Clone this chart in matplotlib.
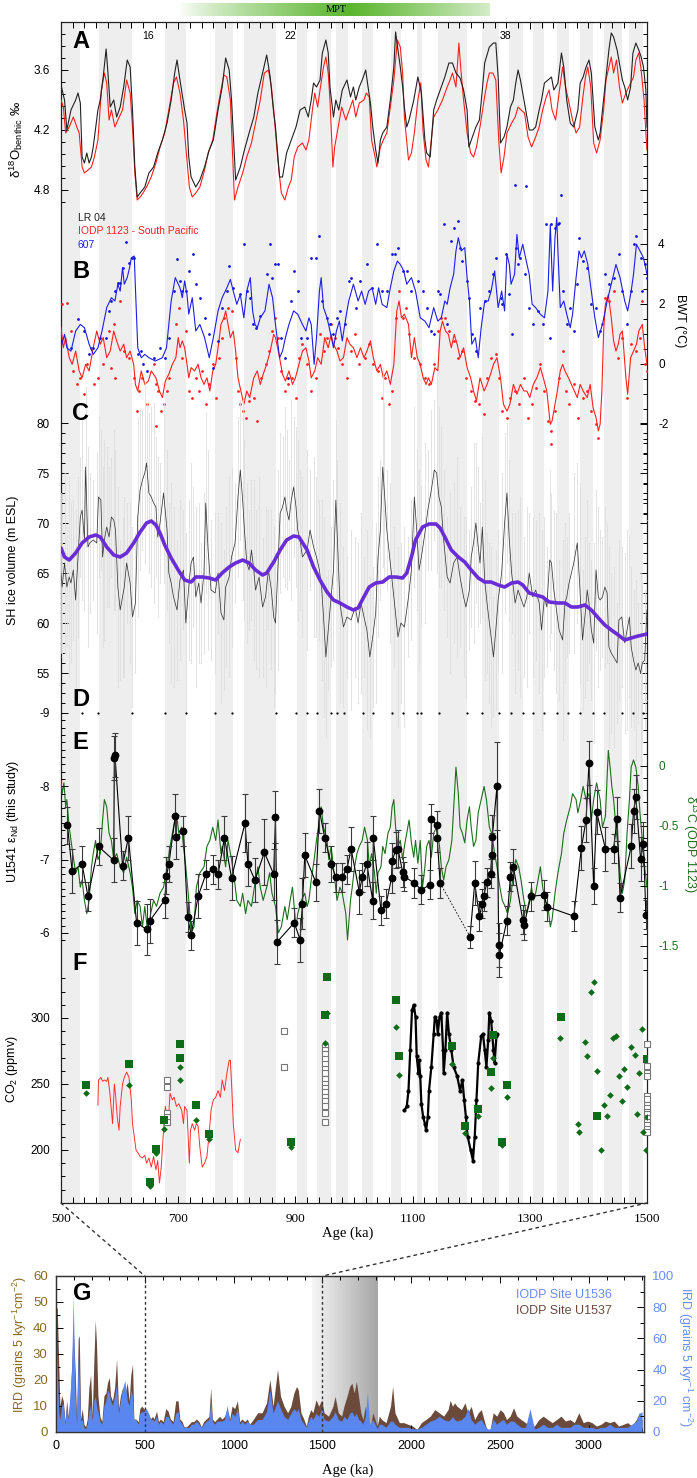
import numpy as np
import matplotlib
matplotlib.use("Agg")
import matplotlib.pyplot as plt
import matplotlib.transforms as mtransforms
from matplotlib.patches import ConnectionPatch
from matplotlib.colors import LinearSegmentedColormap

plt.rcParams['font.family'] = 'Liberation Sans'
plt.rcParams['mathtext.fontset'] = 'custom'
plt.rcParams['mathtext.rm'] = 'Liberation Sans'
plt.rcParams['mathtext.it'] = 'Liberation Sans:italic'
plt.rcParams['mathtext.bf'] = 'Liberation Sans:bold'
SERIF = 'Liberation Serif'

# ---------------- data ----------------
# interglacial shading (ka)
bands = [(500, 533), (565, 622), (677, 713), (762, 793), (813, 867), (902, 920), (937, 961),
         (969, 989), (1014, 1033), (1063, 1080), (1107, 1116), (1143, 1193), (1218, 1247),
         (1265, 1289), (1305, 1324), (1346, 1367), (1386, 1408), (1426, 1457), (1470, 1493)]
mis_age = [649, 892, 1259]
mis_label = ['16', '22', '38']
mpt_span = (700, 1232)

# A: benthic d18O
lr04_age = [500,506,510,517,525,529,533,536,540,544,548,552,555,563,567,572,577,580,584,590,
            595,601,607,613,618,622,626,630,635,643,650,658,665,673,681,688,694,698,703,711,
            715,718,722,730,737,745,753,760,768,775,781,787,791,798,806,813,821,829,836,844,
            851,857,863,866,873,878,885,893,901,908,916,922,927,931,936,942,946,952,956,959,
            965,969,974,980,988,994,999,1003,1009,1014,1020,1024,1028,1032,1037,1041,1045,1049,1056,1062,
            1068,1071,1075,1079,1083,1086,1090,1094,1102,1109,1115,1121,1124,1130,1136,1141,1147,1155,1162,1168,
            1174,1181,1187,1193,1196,1202,1208,1214,1219,1223,1231,1238,1242,1246,1250,1256,1261,1267,1272,1276,
            1280,1284,1290,1295,1299,1305,1310,1316,1320,1325,1331,1337,1341,1348,1354,1358,1363,1369,1375,1382,
            1386,1391,1396,1401,1405,1411,1417,1420,1424,1429,1435,1439,1443,1449,1454,1458,1462,1467,1472,1476,
            1481,1486,1490,1494,1498,1500]
lr04_val = [3.75,3.90,4.20,4.00,3.90,3.83,3.93,4.47,4.53,4.43,4.53,4.47,4.37,4.00,3.90,3.67,3.39,3.62,3.97,3.90,
            4.07,3.97,3.77,3.50,3.57,4.00,4.57,4.87,4.83,4.77,4.63,4.57,4.43,4.30,4.13,3.90,3.63,3.50,3.70,4.00,
            4.13,4.47,4.67,4.77,4.70,4.57,4.40,4.30,4.00,3.77,3.48,3.60,3.90,4.70,4.57,4.40,4.23,4.07,3.83,3.63,
            3.45,3.67,4.03,4.17,4.67,4.67,4.43,4.30,4.17,4.00,3.97,4.07,3.90,3.73,3.77,3.70,3.43,3.30,3.43,3.77,
            4.07,3.90,4.00,3.80,3.70,3.87,3.77,3.90,3.77,3.70,3.60,3.77,3.93,4.17,4.40,4.53,4.30,4.23,4.17,3.90,
            3.57,3.22,3.40,3.57,3.77,3.97,4.17,4.10,3.90,3.67,3.83,4.30,4.43,4.47,4.00,3.90,3.80,3.67,3.53,3.53,
            3.63,3.68,3.80,4.00,4.37,4.27,4.17,4.10,3.80,3.53,3.37,3.33,3.33,3.67,4.33,4.27,4.17,3.97,3.90,3.73,
            3.60,3.70,3.90,4.07,4.20,4.20,4.17,4.00,3.90,3.73,3.70,3.67,3.80,3.73,3.43,3.57,3.90,4.13,4.17,4.00,
            3.73,3.67,3.57,3.50,3.63,4.17,4.30,4.23,4.00,3.73,3.40,3.23,3.27,3.40,3.57,3.70,3.77,3.90,3.77,3.43,
            3.33,3.40,3.47,3.57,3.80,4.17]
o1123_age = [500,504,508,514,521,527,531,536,540,546,552,557,563,569,574,578,582,586,592,597,
             605,612,618,622,626,630,635,640,646,654,662,669,677,684,692,697,703,709,715,719,
             724,730,737,745,751,759,766,772,778,783,789,796,802,810,817,825,832,840,847,854,
             859,864,870,876,882,888,893,898,904,912,918,923,929,933,938,942,948,952,956,959,
             964,967,973,979,986,992,998,1003,1009,1017,1021,1026,1030,1036,1039,1045,1050,1056,1062,1068,
             1074,1079,1083,1086,1093,1098,1103,1109,1114,1118,1123,1127,1130,1136,1143,1151,1159,1164,1168,1174,
             1179,1182,1187,1193,1199,1204,1209,1215,1222,1227,1231,1237,1242,1247,1251,1256,1261,1269,1275,1280,
             1285,1291,1297,1303,1310,1316,1322,1328,1333,1338,1344,1350,1356,1361,1367,1373,1379,1385,1390,1395,
             1399,1404,1409,1414,1420,1426,1430,1435,1439,1443,1448,1453,1458,1464,1472,1477,1481,1486,1490,1495,
             1498,1500]
o1123_val = [3.90,3.97,4.23,4.17,4.07,4.17,4.23,4.57,4.63,4.60,4.57,4.47,4.30,3.80,3.63,3.73,4.10,4.00,4.17,4.10,
             4.00,3.70,3.83,4.17,4.63,4.90,4.87,4.83,4.77,4.67,4.53,4.37,4.23,4.00,3.73,3.67,3.83,4.10,4.50,4.77,
             4.87,4.83,4.77,4.60,4.43,4.30,4.03,3.83,3.65,3.67,3.90,4.90,4.77,4.63,4.47,4.33,4.13,3.90,3.63,3.60,
             3.77,4.07,4.50,4.83,4.90,4.77,4.70,4.47,4.37,4.33,4.40,4.30,4.00,3.83,3.97,3.80,3.57,3.47,3.63,3.90,
             4.57,4.37,4.17,3.97,4.10,4.00,3.90,4.07,3.93,3.90,3.83,3.87,4.30,4.47,4.57,4.37,4.30,4.23,3.97,3.70,
             3.30,3.37,3.63,4.07,4.50,4.43,4.23,3.90,3.73,4.23,4.50,4.57,4.40,4.07,4.00,3.90,3.77,3.70,3.63,3.77,
             3.33,3.57,3.90,4.23,4.43,4.47,4.37,4.17,3.90,3.73,3.63,3.63,3.70,4.30,4.63,4.47,4.23,4.13,4.07,3.97,
             4.00,4.03,4.27,4.37,4.27,4.17,4.00,3.87,3.80,4.00,4.10,3.83,3.57,3.77,3.93,4.10,4.23,4.17,3.90,3.67,
             3.57,3.77,4.33,4.43,4.30,4.00,3.70,3.57,3.47,3.63,3.50,3.77,3.93,3.83,3.73,3.67,3.50,3.43,3.60,3.90,
             4.23,4.40]

# B: bottom water temperature
bwt607_age = [500,506,510,517,525,533,540,548,555,563,570,578,586,592,597,601,605,608,613,617,
              620,625,627,631,637,643,650,661,673,680,688,695,703,707,711,715,718,724,730,737,
              745,753,760,768,775,783,789,794,800,806,812,817,823,827,831,835,840,848,855,861,
              866,873,878,883,889,897,904,912,918,923,927,932,936,941,944,948,954,959,965,970,
              975,980,986,991,999,1007,1013,1019,1025,1031,1037,1042,1048,1056,1062,1068,1074,1079,1085,1090,
              1098,1105,1113,1121,1128,1136,1143,1149,1155,1159,1164,1170,1174,1178,1183,1189,1193,1197,1201,1207,
              1212,1217,1223,1229,1234,1240,1246,1252,1257,1261,1265,1268,1274,1278,1282,1288,1294,1299,1304,1310,
              1318,1325,1331,1335,1339,1343,1346,1348,1352,1358,1363,1369,1373,1379,1384,1388,1393,1399,1405,1411,
              1417,1424,1432,1439,1447,1454,1462,1467,1473,1477,1482,1488,1494,1500]
bwt607_val = [0.54,0.99,0.54,0.43,1.10,1.32,1.21,0.66,0.32,0.54,1.10,1.88,2.21,2.10,2.66,2.43,3.21,2.66,2.88,3.21,
              3.54,3.60,2.54,0.54,0.21,0.32,0.21,0.10,0.21,0.54,2.10,2.88,2.54,2.21,2.77,2.32,1.66,2.21,1.10,1.32,
              0.88,0.21,0.88,1.77,2.21,2.54,2.82,2.43,1.99,2.32,1.54,2.43,2.88,1.77,1.32,1.21,1.54,1.77,2.66,2.21,
              1.32,0.21,0.43,0.88,1.32,1.77,1.66,1.32,1.10,1.54,1.32,-0.01,0.88,2.43,2.88,1.88,1.54,1.10,0.54,1.10,
              1.43,0.77,1.54,2.10,2.66,2.10,2.43,1.99,2.43,2.54,1.99,2.54,1.99,1.88,2.54,3.10,3.43,3.32,3.10,2.66,
              2.88,2.43,1.54,1.43,1.21,1.88,1.43,1.54,2.10,1.99,2.54,2.99,3.77,4.21,3.77,3.88,2.88,2.10,0.66,0.88,
              0.21,1.21,2.10,2.10,2.43,3.10,1.88,2.43,1.77,3.66,3.32,2.66,2.99,4.32,3.54,3.99,3.43,2.99,1.99,1.88,
              1.66,1.54,2.43,4.65,2.43,4.21,4.88,3.77,1.88,2.10,1.66,1.21,1.66,2.88,3.77,3.54,3.77,3.32,2.43,1.54,
              0.88,1.32,2.10,2.66,3.32,2.88,2.10,1.77,2.43,2.99,3.99,3.77,3.54,2.99]
bwt607_dot_age = [517,529,540,548,555,567,577,582,586,592,597,601,605,611,616,621,625,631,636,640,
                  646,658,669,677,684,692,698,703,707,713,719,726,730,737,745,753,760,768,775,783,
                  787,794,806,812,817,822,827,832,840,851,857,860,866,870,876,882,888,893,898,904,
                  910,920,927,935,941,946,954,959,965,971,976,984,992,995,1003,1011,1022,1030,1039,1047,
                  1056,1064,1070,1075,1083,1090,1098,1109,1117,1124,1132,1136,1143,1147,1153,1159,1166,1171,1178,1181,
                  1185,1193,1196,1202,1208,1215,1223,1231,1238,1242,1250,1253,1259,1265,1269,1275,1276,1280,1284,1291,
                  1293,1299,1306,1314,1322,1328,1334,1337,1343,1348,1350,1354,1356,1363,1369,1375,1381,1384,1390,1398,
                  1405,1413,1420,1428,1435,1443,1452,1458,1466,1473,1477,1482,1489,1492,1496,1500]
bwt607_dot_val = [0.54,1.49,1.10,0.32,0.54,0.88,0.88,1.77,2.10,2.43,2.71,2.71,3.21,4.08,3.38,3.54,3.54,0.32,0.43,-0.01,
                  -0.23,0.21,0.54,0.21,0.88,2.43,3.49,2.77,2.43,2.43,3.10,3.66,2.66,2.21,1.54,0.99,-0.12,0.77,1.88,2.43,
                  3.27,2.54,2.32,3.99,2.43,2.21,1.32,1.21,1.60,2.99,3.99,2.88,3.32,3.32,0.88,0.21,-0.46,2.10,3.10,2.43,
                  0.88,0.88,3.54,3.54,4.27,2.10,1.54,1.32,0.99,1.54,1.77,1.32,2.77,2.88,1.88,2.77,3.32,2.54,3.99,2.43,
                  2.43,3.66,3.66,3.88,3.10,3.10,2.43,2.77,2.43,1.88,1.10,0.99,2.43,2.32,4.66,1.32,4.10,4.54,4.77,3.88,
                  3.43,2.77,2.21,0.99,0.43,1.88,2.10,2.43,2.99,3.54,2.21,1.99,3.66,2.32,0.99,5.97,3.88,3.32,3.54,2.99,
                  5.92,1.88,1.32,1.77,1.32,4.66,0.88,4.66,4.54,4.66,4.71,5.63,2.43,1.32,1.88,1.10,2.66,4.21,3.43,3.21,
                  1.99,1.88,1.10,2.99,2.66,2.88,3.66,2.43,1.32,2.43,3.99,4.27,3.54,2.43,3.32,2.88]
bwt1123_age = [500,504,508,514,519,525,531,536,542,548,555,561,567,572,578,584,590,595,601,607,
               612,618,624,627,631,637,643,649,654,662,668,673,678,684,690,696,700,703,707,711,
               715,718,722,728,734,739,744,749,754,759,764,768,773,778,781,785,789,794,798,802,
               807,812,817,822,829,835,840,845,851,857,863,866,873,878,883,889,895,900,906,912,
               918,923,927,933,938,944,950,956,961,965,971,976,982,988,993,999,1005,1011,1017,1022,
               1028,1033,1039,1045,1050,1056,1062,1068,1073,1077,1081,1086,1093,1098,1103,1108,1113,1118,1123,1127,
               1132,1138,1143,1147,1151,1156,1161,1166,1171,1176,1181,1187,1193,1199,1204,1209,1215,1222,1227,1233,
               1238,1244,1250,1255,1261,1266,1272,1278,1284,1290,1295,1300,1306,1312,1318,1323,1329,1335,1338,1343,
               1347,1352,1356,1360,1366,1371,1376,1381,1386,1391,1398,1403,1408,1413,1417,1420,1423,1426,1429,1434,
               1439,1443,1447,1451,1454,1458,1464,1467,1472,1477,1482,1486,1492,1496,1500]
bwt1123_val = [1.21,0.54,0.88,0.21,-0.01,0.43,-0.23,-0.46,-0.01,-0.23,0.54,1.10,0.66,0.88,0.21,0.43,1.10,0.77,0.43,0.66,
               0.21,0.43,-0.01,-0.68,-0.90,-0.23,-0.68,-0.57,-0.23,-0.46,-0.90,-1.12,-0.57,-0.34,-0.01,0.21,0.88,0.54,0.77,0.54,
               -0.01,-0.46,-0.12,-0.23,-0.01,-0.46,-0.68,-0.46,-0.90,-0.23,-0.01,0.54,1.32,1.54,1.77,1.32,0.88,1.10,0.43,-0.46,
               -0.90,-1.34,-0.90,-1.12,-0.46,-0.23,-0.68,-0.34,-0.01,0.43,0.99,0.88,0.21,-0.34,-0.57,-0.23,-0.68,-0.46,-0.01,0.43,
               0.54,0.10,-0.46,-0.23,0.21,-0.01,0.88,0.54,0.99,0.66,0.43,0.10,0.21,0.88,0.66,0.54,0.21,0.54,0.21,0.43,
               0.77,0.21,-0.23,-0.01,-0.46,-0.23,-0.68,-0.01,1.77,2.10,1.54,1.66,1.32,0.21,0.88,0.21,-0.01,-0.46,-0.68,-0.46,
               -0.68,-0.12,-0.23,1.10,1.43,1.10,0.99,0.54,0.99,0.66,0.21,0.54,-0.12,-0.46,-0.90,-1.23,-0.46,-0.90,-0.68,-0.34,
               -0.01,0.21,-0.46,-1.34,-1.57,-1.34,-0.68,-1.01,-0.68,-0.90,-0.90,-1.12,-0.68,-0.46,-0.12,-0.46,-0.90,-2.01,-1.90,-1.34,
               -0.90,-0.23,-0.01,-0.23,-0.46,-0.68,-0.90,-1.12,-0.68,-0.90,-1.12,-0.68,-1.46,-1.79,-2.23,-2.01,-0.90,1.10,1.99,2.31,
               1.54,0.77,0.43,0.66,0.99,1.10,-0.46,-1.01,0.21,0.43,0.66,1.10,1.32,0.54,-0.01]
bwt1123_dot_age = [502,510,517,521,527,533,539,544,552,557,563,571,582,586,590,593,601,608,616,624,
                   630,633,639,646,658,662,662,665,671,675,681,684,696,701,707,713,719,724,730,736,
                   741,747,753,759,764,769,775,779,785,791,798,802,806,810,815,821,829,835,842,850,
                   855,860,865,870,876,882,888,895,901,906,912,920,927,935,942,948,954,961,967,973,
                   980,988,995,1002,1009,1018,1026,1033,1041,1047,1053,1060,1065,1071,1077,1083,1088,1094,1102,1113,
                   1121,1128,1136,1143,1149,1155,1162,1170,1178,1185,1191,1199,1206,1214,1222,1227,1234,1242,1247,1253,
                   1261,1267,1275,1282,1290,1297,1303,1310,1318,1325,1331,1337,1337,1343,1350,1356,1361,1367,1375,1382,
                   1390,1398,1405,1413,1417,1424,1429,1435,1443,1451,1458,1466,1473,1481,1488,1492,1496,1500]
bwt1123_dot_val = [1.99,2.04,1.10,-0.23,-0.68,-0.46,-1.01,-0.01,0.54,-0.68,-0.46,-0.01,1.10,-0.12,1.32,-0.46,2.10,0.43,0.21,-0.46,
                   -1.57,-0.90,-0.46,-1.34,-0.01,-0.68,-2.07,-0.90,-1.57,-1.34,-0.90,-0.46,1.32,1.88,0.21,1.10,-0.90,-1.12,-0.46,-0.90,
                   -0.23,-1.34,-0.68,-0.01,-1.12,0.21,0.88,1.54,1.88,1.77,0.21,-0.90,-1.34,-1.57,-1.79,-1.23,-1.12,-1.90,-0.46,-0.01,
                   0.43,1.10,1.54,0.88,-0.23,-0.90,-0.68,-0.46,-1.12,0.21,0.66,-0.01,-0.90,-0.46,0.99,0.43,0.88,1.32,0.88,0.54,
                   -0.01,-0.46,0.43,0.99,-0.01,0.21,0.66,-0.01,-0.23,-1.12,-0.46,-1.34,-0.90,1.54,2.43,1.54,1.88,0.99,0.21,-0.01,
                   -0.46,-0.68,-0.01,1.10,1.54,1.54,1.10,0.77,0.21,0.43,-0.46,-0.90,-1.23,-1.34,-1.68,-0.46,0.21,0.32,-0.46,-1.57,
                   -1.79,-1.12,-0.90,-1.34,-0.46,-1.79,-1.34,-0.79,-0.01,-0.90,-1.90,-2.23,-2.67,-1.57,-0.46,0.43,-0.90,-1.34,-0.68,-1.79,
                   -1.12,-0.90,-1.57,-2.01,-2.46,1.32,2.21,2.10,2.43,0.21,0.88,-1.12,0.66,0.43,0.88,2.10,-0.01,-0.23]

# C: SH ice volume
ice_age = [500,502,506,510,514,517,521,525,529,533,536,540,542,546,549,555,561,564,568,571,
           574,578,582,586,590,593,597,601,605,608,612,618,622,627,631,635,639,643,646,650,
           654,658,662,665,669,675,681,684,688,692,698,703,709,713,719,722,726,730,735,739,
           744,747,751,756,763,768,773,778,781,787,791,797,802,806,810,813,817,821,825,829,
           832,838,844,849,854,859,863,866,870,874,878,882,885,889,893,897,901,904,908,912,
           920,925,931,936,941,945,948,952,956,961,965,969,971,976,982,988,995,1002,1007,1012,
           1017,1022,1027,1032,1037,1041,1045,1049,1052,1056,1062,1068,1075,1080,1086,1093,1098,1103,1107,1111,
           1115,1121,1126,1132,1137,1141,1145,1149,1153,1159,1164,1170,1176,1181,1187,1191,1197,1200,1204,1208,
           1212,1215,1219,1223,1227,1231,1234,1238,1242,1246,1252,1257,1261,1265,1269,1275,1280,1284,1290,1295,
           1299,1305,1310,1316,1320,1325,1329,1334,1337,1341,1344,1350,1356,1360,1363,1367,1375,1381,1385,1390,
           1394,1398,1401,1405,1409,1413,1417,1420,1424,1428,1432,1435,1439,1443,1449,1452,1457,1462,1466,1470,
           1473,1477,1481,1485,1489,1492,1496,1500]
ice_val = [65.0,63.6,66.0,63.6,64.6,64.0,65.3,62.3,66.6,70.6,71.3,68.3,75.6,67.6,68.0,68.3,68.0,72.6,72.3,66.6,
           68.3,69.6,68.6,70.6,70.3,69.3,63.6,61.3,62.6,63.6,66.0,64.0,60.6,62.0,70.6,73.3,74.3,75.0,76.0,73.0,
           72.6,72.0,71.6,68.6,70.0,73.0,69.3,65.0,64.0,62.6,61.3,64.3,65.3,60.0,64.3,66.0,66.6,62.6,64.0,62.0,
           65.0,72.0,67.3,63.3,63.0,65.0,61.0,60.3,63.6,64.6,66.6,68.0,72.6,75.3,72.3,69.3,66.0,65.3,67.3,65.3,
           63.3,64.6,61.6,62.6,65.3,63.3,60.6,60.0,65.3,71.0,71.6,72.6,71.3,70.3,72.3,73.6,71.6,69.3,68.3,66.6,
           67.3,69.3,67.6,66.6,65.3,63.3,60.6,56.6,59.3,62.6,65.3,72.3,69.3,62.0,59.6,60.6,60.3,61.6,60.0,62.0,
           60.6,59.3,56.6,58.6,61.0,66.6,69.3,75.6,73.0,69.3,66.0,62.6,58.6,60.0,59.6,62.6,65.3,72.6,69.3,65.3,
           66.6,69.0,71.3,73.3,75.3,75.0,72.6,71.6,68.3,64.6,64.0,66.0,66.6,64.6,62.6,61.6,63.3,66.6,68.0,70.0,
           67.6,66.0,69.6,64.3,62.0,60.0,58.6,56.6,59.3,62.3,65.0,70.0,73.0,68.3,65.0,62.0,63.3,62.6,61.6,62.6,
           65.0,62.6,63.3,62.0,59.3,62.6,61.6,66.3,66.0,63.3,62.0,59.3,58.3,62.0,62.6,64.0,66.0,68.0,64.0,58.3,
           60.6,63.3,62.0,59.3,58.0,65.3,62.6,62.3,62.6,63.6,63.0,57.6,57.0,56.6,56.0,60.3,60.6,58.0,59.3,60.6,
           57.6,56.3,55.3,56.0,55.0,56.0,56.3,61.3]
ice_err = [8,7,9,6,10,8,7,9,8,6, 9,7,8,10,7,6,9,8,7,9, 10,8,7,6,9,8,10,7,8,9, 6,8,9,7,10,8,7,9,6,8,
           9,10,7,8,6,9,8,7,10,9, 7,8,6,9,8,10,7,9,8,6, 8,9,10,7,8,6,9,7,8,10, 9,6,8,7,10,9,8,6,7,9,
           8,10,7,9,6,8,9,7,10,8, 7,9,8,6,10,7,8,9,7,8, 10,6,9,8,7,9,10,8,6,7, 9,8,7,10,8,6,9,7,8,9,
           6,10,8,7,9,8,7,10,9,6, 8,7,9,8,10,6,7,9,8,10, 7,9,6,8,7,10,9,8,7,6, 9,8,10,7,8,9,6,7,10,8,
           8,6,9,10,7,8,9,6,8,7, 10,9,7,8,6,9,8,10,7,9, 6,8,7,9,10,8,6,9,7,8, 9,7,10,8,6,7,9,8,10,7,
           8,9,6,7,10,8,9,7,6,8, 7,10,8,9,6,8,7,9,10,8, 8,7,9,6,10,8,7,9]
ice_smooth_age = [500,506,514,525,536,548,559,567,578,590,601,612,624,635,646,654,662,669,677,688,
                  700,711,722,730,741,753,764,775,787,798,810,821,832,844,851,863,874,885,897,906,
                  920,931,942,954,965,976,988,999,1007,1014,1026,1037,1049,1060,1071,1083,1090,1098,1105,1117,
                  1128,1140,1147,1155,1166,1178,1189,1200,1212,1223,1234,1246,1257,1269,1280,1288,1299,1310,1322,1333,
                  1348,1360,1371,1382,1394,1405,1417,1428,1439,1451,1462,1473,1485,1500]
ice_smooth_val = [67.5,66.6,66.3,67.0,68.0,68.6,68.8,68.6,67.6,66.8,66.6,67.0,68.0,69.1,70.0,70.2,69.8,69.0,67.8,66.5,
                  65.3,64.3,64.1,64.6,64.6,64.5,64.3,65.0,65.6,66.0,66.3,66.0,65.3,64.8,65.0,66.1,67.3,68.3,68.7,68.6,
                  67.3,65.6,64.3,63.1,62.3,62.0,61.6,61.3,61.5,62.3,63.6,64.0,64.1,64.6,64.6,64.5,65.0,66.6,68.3,69.6,
                  69.9,69.9,69.5,68.6,67.3,66.6,66.1,65.3,64.5,64.1,64.1,63.8,63.6,64.0,64.1,63.8,63.0,62.8,62.6,62.1,
                  62.0,62.0,61.6,61.6,61.8,61.3,60.5,59.8,59.3,58.8,58.3,58.5,58.7,58.9]

# D: terminations
term_age = [535,563,622,677,714,763,792,867,901,919,937,960,971,983,1015,1033,1064,1084,1107,1115,
            1145,1193,1219,1248,1268,1289,1306,1324,1346,1365,1386,1407,1426,1457,1476,1493]

# E: U1541 eNd and ODP 1123 d13C
nd_age = [511,519,536,546,564,590,591,592,605,615,629,646,652,677,680,684,695,697,709,716,
          722,734,747,759,768,779,791,814,819,831,847,863,866,869,898,908,912,916,935,941,
          950,961,969,979,988,995,1009,1014,1022,1032,1033,1046,1055,1064,1065,1071,1075,1083,1086,1103,
          1115,1130,1132,1141,1142,1147,1198,1206,1214,1219,1221,1227,1233,1235,1236,1244,1247,1248,1261,1267,
          1272,1288,1290,1302,1325,1329,1375,1388,1396,1401,1409,1414,1429,1443,1449,1454,1473,1477,1481,1489,
          1494,1498]
nd_val = [-7.47,-6.84,-6.94,-6.50,-7.18,-6.99,-8.38,-8.43,-6.92,-7.30,-6.14,-6.05,-6.17,-6.45,-6.78,-6.94,-7.59,-7.31,-7.39,-6.22,
          -5.97,-6.50,-6.80,-6.87,-6.80,-7.30,-6.75,-7.50,-6.94,-6.72,-7.10,-6.80,-7.58,-5.88,-6.14,-5.91,-6.40,-7.06,-6.69,-7.67,
          -7.30,-6.94,-6.76,-6.76,-6.87,-7.15,-6.56,-6.76,-6.94,-6.44,-7.29,-6.31,-6.40,-6.75,-6.98,-7.13,-7.15,-6.83,-6.77,-6.68,
          -6.59,-6.66,-7.56,-7.47,-7.30,-6.68,-5.95,-6.68,-6.23,-6.40,-6.50,-6.69,-6.81,-7.06,-7.31,-8.00,-5.84,-5.70,-6.17,-6.77,
          -6.90,-6.18,-6.11,-6.50,-6.52,-6.36,-6.23,-7.16,-7.54,-8.32,-6.64,-7.65,-7.15,-7.15,-7.55,-6.48,-7.18,-7.66,-7.85,-7.01,
          -7.22,-6.25]
nd_err = [0.25,0.3,0.25,0.2,0.25,0.3,0.3,0.3,0.2,0.3, 0.3,0.35,0.3,0.25,0.25,0.25,0.3,0.3,0.2,0.2,
          0.2,0.3,0.2,0.2,0.2,0.3,0.3,0.4,0.3,0.3, 0.45,0.35,0.35,0.3,0.2,0.3,0.35,0.3,0.25,0.3,
          0.2,0.25,0.2,0.2,0.2,0.3,0.3,0.2,0.3,0.25, 0.3,0.2,0.2,0.2,0.25,0.25,0.25,0.2,0.2,0.2,
          0.2,0.2,0.2,0.2,0.2,0.2,0.15,0.3,0.2,0.2, 0.2,0.2,0.2,0.3,0.3,0.6,0.3,0.3,0.2,0.2,
          0.25,0.2,0.2,0.2,0.2,0.2,0.2,0.3,0.3,0.3, 0.25,0.3,0.3,0.2,0.3,0.2,0.3,0.3,0.3,0.3,
          0.3,0.2]
nd_gap_after = 1147
d13c_age = [500,502,505,508,510,514,517,521,525,529,533,536,540,544,548,552,555,559,563,567,
            571,574,578,582,586,590,595,601,607,612,618,622,626,630,635,639,643,648,653,658,
            663,669,675,681,686,692,697,701,706,709,713,719,722,727,731,737,744,749,754,759,
            764,768,773,775,781,785,791,796,800,806,810,815,819,825,830,836,840,845,851,856,
            860,866,871,876,882,886,891,895,901,904,910,916,920,923,927,932,936,941,944,948,
            954,957,961,966,971,976,980,986,989,994,997,1001,1005,1009,1014,1018,1023,1026,1030,1035,
            1038,1041,1046,1049,1053,1058,1062,1065,1068,1071,1075,1079,1083,1086,1090,1094,1098,1102,1105,1109,
            1113,1117,1121,1124,1128,1132,1136,1141,1146,1149,1153,1157,1162,1167,1171,1174,1178,1181,1185,1189,
            1193,1197,1200,1204,1208,1212,1217,1222,1226,1231,1235,1240,1244,1249,1253,1258,1262,1267,1272,1276,
            1281,1285,1290,1294,1299,1303,1306,1310,1314,1318,1322,1326,1331,1335,1338,1343,1348,1354,1358,1363,
            1369,1373,1379,1382,1387,1391,1396,1401,1405,1409,1414,1420,1424,1429,1434,1437,1440,1443,1447,1451,
            1454,1458,1462,1466,1470,1473,1477,1481,1485,1488,1492,1496,1500]
d13c_val = [-0.12,-0.23,-0.14,-0.34,-0.28,-0.51,-0.62,-0.76,-0.89,-0.84,-1.01,-0.95,-1.12,-1.23,-1.12,-0.84,-0.73,-0.62,-0.78,-0.73,
            -0.45,-0.28,-0.34,-0.56,-0.62,-0.78,-0.73,-0.84,-0.89,-0.76,-0.89,-1.01,-1.23,-1.12,-1.17,-1.34,-1.17,-1.39,-1.23,-1.12,
            -1.17,-1.06,-1.01,-0.84,-0.67,-0.51,-0.39,-0.56,-0.51,-0.67,-0.84,-1.17,-1.39,-1.34,-1.01,-0.89,-0.84,-0.67,-0.62,-0.51,
            -0.62,-0.45,-0.73,-0.67,-0.84,-0.62,-0.78,-0.95,-1.12,-1.17,-1.06,-1.23,-1.12,-1.17,-1.01,-0.84,-1.01,-1.12,-1.01,-0.89,
            -1.06,-1.17,-1.39,-1.34,-1.17,-1.28,-1.12,-1.01,-1.34,-1.23,-1.12,-1.06,-1.17,-1.12,-0.95,-0.78,-0.62,-0.45,-0.34,-0.51,
            -0.62,-0.78,-0.67,-0.89,-1.12,-1.01,-1.06,-1.23,-1.45,-1.12,-1.01,-0.84,-0.73,-0.67,-0.62,-0.51,-0.62,-0.84,-0.73,-0.89,
            -1.06,-0.89,-0.84,-0.67,-0.73,-0.56,-0.51,-0.34,-0.28,-0.51,-0.67,-0.62,-0.78,-0.67,-0.56,-0.45,-0.64,-0.76,-0.62,-0.81,
            -0.62,-1.01,-0.84,-0.67,-0.62,-0.76,-0.56,-0.51,-0.67,-0.84,-0.95,-0.84,-0.78,-0.62,-0.28,-0.01,-0.23,-0.51,-0.56,-0.64,
            -0.45,-0.34,-0.51,-0.67,-0.62,-0.39,-0.28,-0.17,-0.28,-0.51,-0.56,-0.73,-0.84,-1.01,-1.12,-1.17,-1.23,-1.12,-0.89,-0.78,
            -0.84,-0.95,-1.12,-1.23,-1.12,-1.01,-1.12,-1.06,-0.95,-0.84,-1.01,-1.12,-1.17,-1.34,-1.28,-1.06,-0.89,-0.73,-0.56,-0.45,
            -0.34,-0.23,-0.28,-0.39,-0.28,-0.17,-0.28,-0.23,-0.45,-0.28,-0.14,-0.28,-0.51,-0.42,0.13,-0.01,-0.17,-0.28,-0.51,-0.70,
            -0.89,-1.06,-0.95,-0.56,-0.28,-0.01,0.05,-0.01,-0.17,-0.39,-0.62,-0.84,-1.01]

# F: CO2
co2_red_age = [563,564,568,571,574,578,580,583,586,588,591,593,596,599,601,605,608,612,616,620,
               622,625,628,631,635,639,643,646,650,654,658,662,665,668,671,675,678,683,686,690,
               693,697,701,706,709,711,715,719,721,724,728,731,734,737,741,745,749,753,756,760,
               764,768,772,775,779,783,787,789,791,794,798,802,804,806]
co2_red_val = [234,253,255,252,253,252,255,245,230,220,250,242,225,215,233,250,255,259,255,238,
               220,210,200,198,195,194,196,190,194,187,195,185,192,175,187,215,233,220,243,238,
               240,233,235,230,220,233,230,190,215,220,215,220,218,202,187,190,195,213,230,238,
               240,245,240,253,245,258,268,268,251,220,200,198,203,208]
co2_blk_age = [1086,1090,1093,1096,1099,1102,1105,1107,1110,1111,1113,1115,1118,1121,1123,1126,1128,1132,1136,1138,
               1141,1143,1146,1149,1152,1153,1156,1159,1162,1166,1170,1176,1181,1185,1188,1191,1194,1199,1203,1206,
               1209,1212,1217,1220,1223,1226,1229,1231,1234,1238,1240,1243,1244]
co2_blk_val = [230,233,245,276,306,310,301,271,258,268,256,235,225,220,215,225,245,263,288,301,
               298,288,301,304,276,258,276,304,288,276,263,256,245,253,238,225,210,200,192,210,
               238,266,286,288,276,263,283,304,298,276,266,286,288]
co2_sq_age = [542,616,652,662,675,703,703,731,753,893,954,951,1071,1077,1167,1190,1212,1233,1238,1252,
              1261,1354,1414,1500]
co2_sq_val = [249,265,176,201,223,280,270,234,212,206,331,302,314,271,279,218,231,259,287,206,
              249,301,226,269]
co2_dm_age = [542,616,652,662,675,703,703,731,753,893,951,954,1071,1077,1167,1190,1212,1233,1238,1252,
              1261,1352,1382,1384,1394,1398,1404,1409,1415,1421,1426,1431,1437,1442,1447,1452,1457,1461,1466,1473,
              1479,1483,1487,1491,1494,1498,1500]
co2_dm_val = [243,249,173,198,216,263,253,223,208,202,281,304,293,257,265,213,226,247,270,204,
              240,285,220,214,282,271,320,327,260,200,234,226,242,285,286,256,237,261,248,278,
              272,227,258,292,214,200,225]
co2_open_age = [681,681,681,681,681,880,880] + [951] * 16 + [1500] * 15
co2_open_val = [253,248,228,225,221,290,263,
                278,276,273,269,265,261,258,254,250,247,244,240,237,233,228,221,
                280,264,258,256,241,239,234,232,229,227,224,221,219,216,214]

# G: IRD
ird_age = [0,7,15,22,32,41,51,60,69,79,88,97,107,116,125,131,139,148,157,167,
           176,185,195,204,213,221,228,236,247,258,270,281,290,300,307,318,330,341,352,363,
           375,388,401,412,421,431,438,449,463,472,483,494,509,521,532,543,552,566,577,588,
           603,618,631,644,659,674,687,697,710,721,734,749,762,775,790,805,818,831,846,861,
           871,880,893,906,921,934,949,963,978,991,1006,1021,1034,1047,1062,1077,1090,1110,1135,1160,
           1185,1204,1222,1247,1264,1284,1304,1322,1339,1354,1364,1379,1396,1409,1421,1434,1446,1464,1479,1496,
           1509,1534,1559,1571,1589,1608,1621,1638,1653,1666,1678,1691,1703,1716,1728,1741,1753,1766,1783,1796,
           1808,1820,1833,1858,1883,1895,1908,1933,1958,1983,2007,2032,2057,2082,2107,2132,2157,2182,2207,2219,
           2232,2244,2257,2282,2302,2319,2337,2357,2377,2394,2419,2431,2444,2461,2481,2501,2519,2536,2556,2576,
           2594,2618,2643,2668,2693,2718,2743,2768,2793,2818,2843,2868,2893,2918,2943,2968,2993,3017,3042,3067,
           3092,3117,3142,3167,3192,3217,3242,3267,3284,3299]
ird_u1537 = [47,48,27,10,14,12,4,12,6,12,25,40,25,5,36,37,5,9,3,2,
             5,17,22,6,27,43,34,14,6,4,14,15,19,21,14,12,17,28,9,14,
             17,14,19,12,22,26,5,5,4,9,10,9,8,7,5,6,5,8,4,5,
             4,9,8,5,4,12,12,5,4,2,2,3,4,4,5,4,2,4,5,6,
             17,5,4,5,6,5,6,9,5,10,9,12,4,5,4,5,3,4.8,7.4,7.4,
             11.2,20.3,9.9,24.1,13.7,9.9,7.4,9.9,15.0,17.5,16.2,7.4,4.8,2.3,6.1,8.6,7.4,12.4,9.9,12.4,
             7.4,6.1,9.9,13.7,7.4,6.1,9.9,13.7,17.5,18.8,15.0,19.4,13.7,7.4,4.8,9.9,4.8,0.4,7.4,4.8,
             2.3,6.1,4.8,3.6,9.9,17.5,7.4,3.6,3.6,2.9,2.3,1.0,3.6,4.8,6.1,8.6,7.4,6.1,8.6,12.2,
             9.9,11.2,9.9,8.6,11.2,7.4,9.9,4.8,7.4,8.6,2.3,0.4,1.0,7.4,6.1,8.6,7.4,4.8,6.1,9.3,
             6.1,4.8,3.6,2.3,2.3,4.8,6.1,4.8,3.6,4.8,6.1,4.2,4.8,3.6,7.4,3.6,4.2,3.6,2.3,2.9,
             4.2,3.6,4.2,2.3,2.9,3.6,2.3,4.8,7.4,4.8]
ird_u1536 = [67,42,13,8,17,18,5,17,8,25,40,87,25,5,50,33,7,8,3,2,
             5,13,17,7,20,23,17,13,7,5,17,20,27,25,20,17,23,30,12,20,
             28,33,20,17,27,23,8,8,5,12,13,13,15,12,8,8,7,10,5,7,
             5,10,10,7,5,12,13,7,5,3,3,3,5,5,7,5,3,5,7,8,
             20,7,5,7,7,7,8,17,7,12,10,15,5,7,5,7,5,5,8,8,
             13,27,12,20,15,10,8,12,15,13,15,8,5,3,7,10,8,12,10,15,
             8,7,10,13,8,7,10,8,12,13,10,12,8,7,5,10,25,5,8,5,
             2,5,5,3,7,7,5,3,3,3,2,2,3,5,7,8,10,8,7,8,
             10,8,7,8,10,15,8,5,7,8,3,2,2,8,5,7,8,5,7,7,
             5,3,3,15,2,3,5,3,3,5,3,3,3,5,5,3,3,3,2,3,
             3,5,3,3,3,3,5,7,12,13]
ird_shade = (1440, 1810)
zoom_window = (500, 1500)

# ---------------- figure ----------------
W, H = 697, 1478
fig = plt.figure(figsize=(W / 100, H / 100), dpi=100)


def fx(p):
    return p / W


def fy(p):
    return 1 - p / H


L, R, T, B = 61, 647, 22, 1203
frame = [fx(L), fy(B), (R - L) / W, (B - T) / H]
n_ax = [0]


def overlay(v1, p1, v2, p2):
    n_ax[0] += 1
    ax = fig.add_axes(frame, label='ov%d' % n_ax[0])
    ax.patch.set_visible(False)
    for s in ax.spines.values():
        s.set_visible(False)
    ax.set_xlim(500, 1500)
    k = (v2 - v1) / (p2 - p1)
    ax.set_ylim(v1 + (B - p1) * k, v1 + (T - p1) * k)
    ax.tick_params(axis='x', which='both', bottom=False, top=False, labelbottom=False)
    return ax


def yticks(ax, major, labels, minor, left=True, right=False, labelleft=True,
           labelright=False, color='black', pad=8):
    lim = ax.get_ylim()
    ax.set_yticks(major)
    ax.set_yticklabels(labels)
    ax.set_yticks(minor, minor=True)
    ax.set_ylim(lim)
    ax.tick_params(axis='y', which='both', direction='in', left=left, right=right,
                   labelleft=labelleft, labelright=labelright, labelsize=8.5,
                   labelcolor=color, pad=pad, width=0.7)
    ax.tick_params(axis='y', which='major', length=5)
    ax.tick_params(axis='y', which='minor', length=3)


# frame with shading
ax0 = fig.add_axes(frame, label='frame')
ax0.set_xlim(500, 1500)
ax0.set_ylim(0, 1)
for s, e in bands:
    ax0.axvspan(s, e, color='#eeeeee', lw=0)
ax0.set_yticks([])
ax0.set_xticks(range(500, 1501, 200))
ax0.set_xticklabels([str(v) for v in range(500, 1501, 200)], fontfamily=SERIF, fontsize=9.5)
ax0.set_xticks(range(500, 1501, 20), minor=True)
ax0.tick_params(axis='x', which='both', direction='in', top=True, width=0.7, pad=7)
ax0.tick_params(axis='x', which='major', length=5)
ax0.tick_params(axis='x', which='minor', length=4)
for s in ax0.spines.values():
    s.set_linewidth(0.9)
    s.set_color('#222222')
fig.text(fx(348), fy(1233), 'Age (ka)', family=SERIF, fontsize=10.5, ha='center', va='center')

# MPT bar
ax_m = fig.add_axes([fx(L), fy(16), (R - L) / W, 13 / H], label='mpt')
t = np.linspace(0, 1, 256)
grad = (1 - np.abs(t - 0.55) / 0.55).clip(0, 1) ** 0.8
cm_green = LinearSegmentedColormap.from_list('g', ['#ffffff', '#5bb52e'])
ax_m.imshow(grad[np.newaxis, :], extent=[mpt_span[0], mpt_span[1], 0, 1], aspect='auto',
            cmap=cm_green, vmin=0, vmax=1)
ax_m.set_xlim(500, 1500)
ax_m.set_ylim(0, 1)
ax_m.axis('off')
ax_m.text(sum(mpt_span) / 2 + 3, 0.5, 'MPT', family=SERIF, fontsize=7.5, ha='center', va='center')

blend = mtransforms.blended_transform_factory(ax0.transData, fig.transFigure)
for a, lab in zip(mis_age, mis_label):
    fig.text(a, fy(36), lab, transform=blend, fontsize=7.5, ha='center', va='center')

# A
ax_a = overlay(3.6, 70, 4.8, 190)
ax_a.plot(o1123_age, o1123_val, color='#ff1f1f', lw=0.8)
ax_a.plot(lr04_age, lr04_val, color='#222222', lw=0.8)
yticks(ax_a, [3.6, 4.2, 4.8], ['3.6', '4.2', '4.8'], np.arange(3.24, 4.93, 0.12), right=True)
fig.text(fx(16), fy(139), r'δ$^{18}$O$_{\mathrm{benthic}}$ ‰', rotation=90, fontsize=9.5,
         ha='center', va='center')
fig.text(fx(78), fy(218), 'LR 04', fontsize=7.5, color='#222222', va='center')
fig.text(fx(78), fy(231), 'IODP 1123 - South Pacific', fontsize=7.5, color='#ff1f1f', va='center')
fig.text(fx(78), fy(245), '607', fontsize=7.5, color='#1e1ee6', va='center')

# B
ax_b = overlay(4, 244, -2, 424)
ax_b.plot(bwt1123_dot_age, bwt1123_dot_val, 'o', color='#ff2020', ms=2.0, mew=0)
ax_b.plot(bwt1123_age, bwt1123_val, color='#ff2020', lw=0.8)
ax_b.plot(bwt607_dot_age, bwt607_dot_val, 'o', color='#1414d8', ms=2.0, mew=0)
ax_b.plot(bwt607_age, bwt607_val, color='#1e1ee6', lw=0.8)
yticks(ax_b, [-2, 0, 2, 4], ['-2', '0', '2', '4'], np.arange(-5, 5.01, 0.5),
       left=False, right=True, labelleft=False, labelright=True)
fig.text(fx(680), fy(321), 'BWT (°C)', rotation=270, fontsize=9, ha='center', va='center')

# C
ax_c = overlay(80, 423, 55, 673)
ax_c.errorbar(ice_age, ice_val, yerr=ice_err, fmt='none', ecolor='#dedede', elinewidth=0.6,
              capsize=1.0, capthick=0.4)
ax_c.plot(ice_age, ice_val, color='#3a3a3a', lw=0.55)
ax_c.plot(ice_smooth_age, ice_smooth_val, color='#6a2cd6', lw=2.6, solid_capstyle='round')
yticks(ax_c, [55, 60, 65, 70, 75, 80], ['55', '60', '65', '70', '75', '80'], np.arange(51, 80.5, 1),
       right=True)
fig.text(fx(13), fy(560), 'SH ice volume (m ESL)', rotation=90, fontsize=9, ha='center', va='center')

# E right (d13C)
ax_e2 = overlay(0, 766, -1.5, 946)
ax_e2.plot(d13c_age, d13c_val, color='#1d6e1d', lw=0.8)
yticks(ax_e2, [0, -0.5, -1, -1.5], ['0', '-0.5', '-1', '-1.5'], np.arange(-1.7, 0.45, 0.1),
       left=False, right=True, labelleft=False, labelright=True, color='#1d6e1d')
fig.text(fx(690), fy(844), r'δ$^{13}$C (ODP 1123)', rotation=270, fontsize=9, color='#1d6e1d',
         ha='center', va='center')

# D + E left (eNd)
ax_e = overlay(-9, 713, -6, 933)
ax_e.plot(term_age, [-9] * len(term_age), 'o', color='black', ms=1.6, mew=0)
nd_age_a = np.array(nd_age)
nd_val_a = np.array(nd_val)
first = nd_age_a <= nd_gap_after
i = np.where(first)[0][-1]
ax_e.plot(nd_age_a[first], nd_val_a[first], color='black', lw=0.8)
ax_e.plot(nd_age_a[~first], nd_val_a[~first], color='black', lw=0.8)
ax_e.plot(nd_age_a[i:i + 2], nd_val_a[i:i + 2], color='black', lw=0.6, ls=(0, (2, 2)))
ax_e.errorbar(nd_age, nd_val, yerr=nd_err, fmt='o', color='black', ms=4.6, ecolor='#3a3a3a',
              elinewidth=0.8, capsize=2, capthick=0.8, zorder=3)
yticks(ax_e, [-9, -8, -7, -6], ['-9', '-8', '-7', '-6'], np.arange(-9, -5.85, 0.1))
fig.text(fx(13), fy(821), r'U1541 ε$_{\mathrm{Nd}}$ (this study)', rotation=90, fontsize=9,
         ha='center', va='center')

# F
ax_f = overlay(300, 1018, 200, 1150)
ax_f.plot(co2_red_age, co2_red_val, color='#ff3030', lw=0.7)
ax_f.plot(co2_blk_age, co2_blk_val, color='black', lw=1.6, marker='o', ms=2.0)
ax_f.plot(co2_open_age, co2_open_val, 's', mfc='white', mec='#777777', ms=4.2, mew=0.8, clip_on=False)
ax_f.plot(co2_sq_age, co2_sq_val, 's', color='#0e6b17', ms=5.2, mew=0)
ax_f.plot(co2_dm_age, co2_dm_val, 'D', color='#0e6b17', ms=3.4, mew=0)
yticks(ax_f, [200, 250, 300], ['200', '250', '300'], np.arange(170, 331, 10))
fig.text(fx(12), fy(1069), 'CO$_2$ (ppmv)', rotation=90, fontsize=9, ha='center', va='center')

# panel letters
for lab, y in zip('ABCDEF', [42, 272, 414, 700, 743, 964]):
    fig.text(fx(72), fy(y), lab, fontsize=17, weight='bold', ha='left', va='center')

# G
ax_g = fig.add_axes([fx(56), fy(1432), (644 - 56) / W, (1432 - 1276) / H], label='g')
cm_grey = LinearSegmentedColormap.from_list('gr', ['#f6f6f6', '#a6a6a6'])
ax_g.imshow(np.linspace(0, 1, 128)[np.newaxis, :], extent=[ird_shade[0], ird_shade[1], 0, 60],
            aspect='auto', cmap=cm_grey, zorder=0)
ax_g.fill_between(ird_age, ird_u1537, color='#6b4a3c', lw=0, zorder=1)
ax_g.set_xlim(0, 3310)
ax_g.set_ylim(0, 60)
olive = '#8a6a1e'
lightblue = '#6b8df5'
ax_g.set_yticks(range(0, 61, 10))
ax_g.set_yticks(range(0, 61, 5), minor=True)
ax_g.set_xticks(range(0, 3001, 500))
ax_g.set_xticks(range(0, 3301, 100), minor=True)
ax_g.tick_params(axis='both', which='both', direction='in', top=True, width=0.7)
ax_g.tick_params(axis='y', labelcolor=olive, labelsize=9.5, pad=6)
ax_g.tick_params(axis='x', labelsize=9, pad=6)
ax_g.tick_params(which='major', length=5)
ax_g.tick_params(which='minor', length=3)
ax_g2 = ax_g.twinx()
ax_g2.fill_between(ird_age, ird_u1536, color='#5a86f0', lw=0)
ax_g2.set_ylim(0, 100)
ax_g2.set_xlim(0, 3310)
ax_g2.set_yticks(range(0, 101, 20))
ax_g2.set_yticks(range(0, 101, 10), minor=True)
ax_g2.tick_params(axis='y', which='both', direction='in', width=0.7, labelcolor=lightblue,
                  labelsize=9.5, pad=6)
ax_g2.tick_params(which='major', length=5)
ax_g2.tick_params(which='minor', length=3)
for a in zoom_window:
    ax_g2.axvline(a, color='#333333', lw=1, ls=(0, (2, 2)))
for s in list(ax_g.spines.values()) + list(ax_g2.spines.values()):
    s.set_linewidth(0.9)
    s.set_color('#333333')
fig.text(fx(73), fy(1293), 'G', fontsize=17, weight='bold', ha='left', va='center')
fig.text(fx(612), fy(1295), 'IODP Site U1536', fontsize=9, color=lightblue, ha='right', va='center')
fig.text(fx(612), fy(1311), 'IODP Site U1537', fontsize=9, color='#6b4a3c', ha='right', va='center')
fig.text(fx(20), fy(1345), r'IRD (grains 5 kyr$^{-1}$cm$^{-2}$)', rotation=90, fontsize=9,
         color=olive, ha='center', va='center')
fig.text(fx(685), fy(1357), r'IRD (grains 5 kyr$^{-1}$ cm$^{-2}$)', rotation=270, fontsize=9,
         color=lightblue, ha='center', va='center')
fig.text(fx(348), fy(1470), 'Age (ka)', family=SERIF, fontsize=10.5, ha='center', va='center')

# dashed connectors from upper axis ends to the zoom window in G
for a in zoom_window:
    con = ConnectionPatch(xyA=(a, 0), coordsA=ax0.transData, xyB=(a, 60), coordsB=ax_g.transData,
                          color='#333333', lw=1, ls=(0, (2, 3)))
    fig.add_artist(con)

fig.savefig('out.png', dpi=100)
